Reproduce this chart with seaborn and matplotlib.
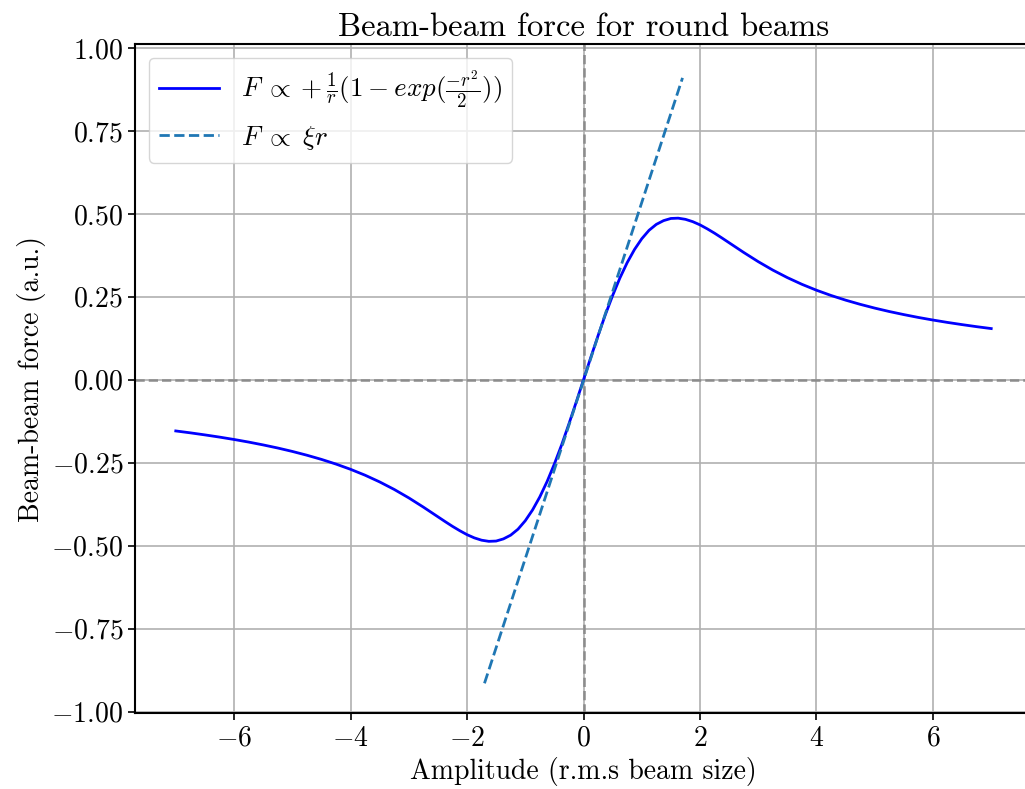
import numpy as np
import pandas as pd
import matplotlib
matplotlib.use("Agg")
import matplotlib.pyplot as plt
import seaborn as sns

# Data
amp_pos = [0.0, 0.125, 0.25, 0.375, 0.5, 0.625, 0.75, 0.875, 1.0, 1.125, 1.25,
           1.375, 1.5, 1.625, 1.75, 1.875, 2.0, 2.125, 2.25, 2.375, 2.5,
           2.75, 3.0, 3.25, 3.5, 3.75, 4.0, 4.25, 4.5, 4.75, 5.0, 5.25, 5.5,
           5.75, 6.0, 6.25, 6.5, 6.75, 7.0]
force_pos = [0.0, 0.0673, 0.1329, 0.1961, 0.2538, 0.3068, 0.3531, 0.3925,
             0.4250, 0.4505, 0.4684, 0.4797, 0.4862, 0.4871, 0.4836, 0.4766,
             0.4669, 0.4549, 0.4418, 0.4276, 0.4130, 0.3838, 0.3560, 0.3306,
             0.3079, 0.2877, 0.2699, 0.2541, 0.2400, 0.2274, 0.2160, 0.2057,
             0.1964, 0.1878, 0.1800, 0.1728, 0.1662, 0.1600, 0.1543]
lin_amp = [-1.7, 1.7]
lin_force = [-0.915, 0.91]

label_curve = r'$F\;\propto+\frac{1}{r}(1-exp(\frac{-r^2}{2}))$'
label_lin = r'$F\;\propto\;\xi r$'

# odd-symmetric full curve built from the read half
amp = [-a for a in amp_pos[::-1]] + amp_pos[1:]
force = [-f for f in force_pos[::-1]] + force_pos[1:]
df_curve = pd.DataFrame({"amp": amp, "force": force})
df_lin = pd.DataFrame({"amp": lin_amp, "force": lin_force})

plt.rcParams.update({
    "font.family": "serif",
    "font.serif": ["cmr10", "DejaVu Serif"],
    "mathtext.fontset": "cm",
    "axes.formatter.use_mathtext": True,
    "axes.unicode_minus": True,
})

fig = plt.figure(figsize=(10.25, 7.89), dpi=100)
ax = fig.add_axes([135 / 1025, 0.0957, 897 / 1025, 0.8479])

ax.grid(True, color="#b0b0b0", linewidth=1.2, zorder=0)
ax.axhline(0, color="#8c8c8c", linestyle="--", linewidth=1.8, zorder=2)
ax.axvline(0, color="#8c8c8c", linestyle="--", linewidth=1.8, zorder=2)

sns.lineplot(data=df_curve, x="amp", y="force", ax=ax, color="blue",
             linewidth=2.0, label=label_curve, sort=False, zorder=3)
sns.lineplot(data=df_lin, x="amp", y="force", ax=ax, color="#1f77b4",
             linewidth=2.0, linestyle="--", label=label_lin, sort=False, zorder=3)

ax.set_xlim(-7.7, 7.7)
ax.set_ylim(-1.006, 1.0106)
ax.set_xticks([-6, -4, -2, 0, 2, 4, 6])
ax.set_yticks([-1.0, -0.75, -0.5, -0.25, 0.0, 0.25, 0.5, 0.75, 1.0])
ax.yaxis.set_major_formatter(matplotlib.ticker.FuncFormatter(lambda v, p: r"$%.2f$" % v))
ax.xaxis.set_major_formatter(matplotlib.ticker.FuncFormatter(lambda v, p: r"$%d$" % v))
ax.tick_params(labelsize=20, width=1.2, length=5)
for s in ax.spines.values():
    s.set_linewidth(1.5)

ax.set_xlabel("Amplitude (r.m.s beam size)", fontsize=20)
ax.set_ylabel("Beam-beam force (a.u.)", fontsize=20)
ax.set_title("Beam-beam force for round beams", fontsize=23.5)

ax.legend(loc="upper left", fontsize=19.5, framealpha=0.8, handlelength=2.2)

fig.savefig("out.png", dpi=100)
